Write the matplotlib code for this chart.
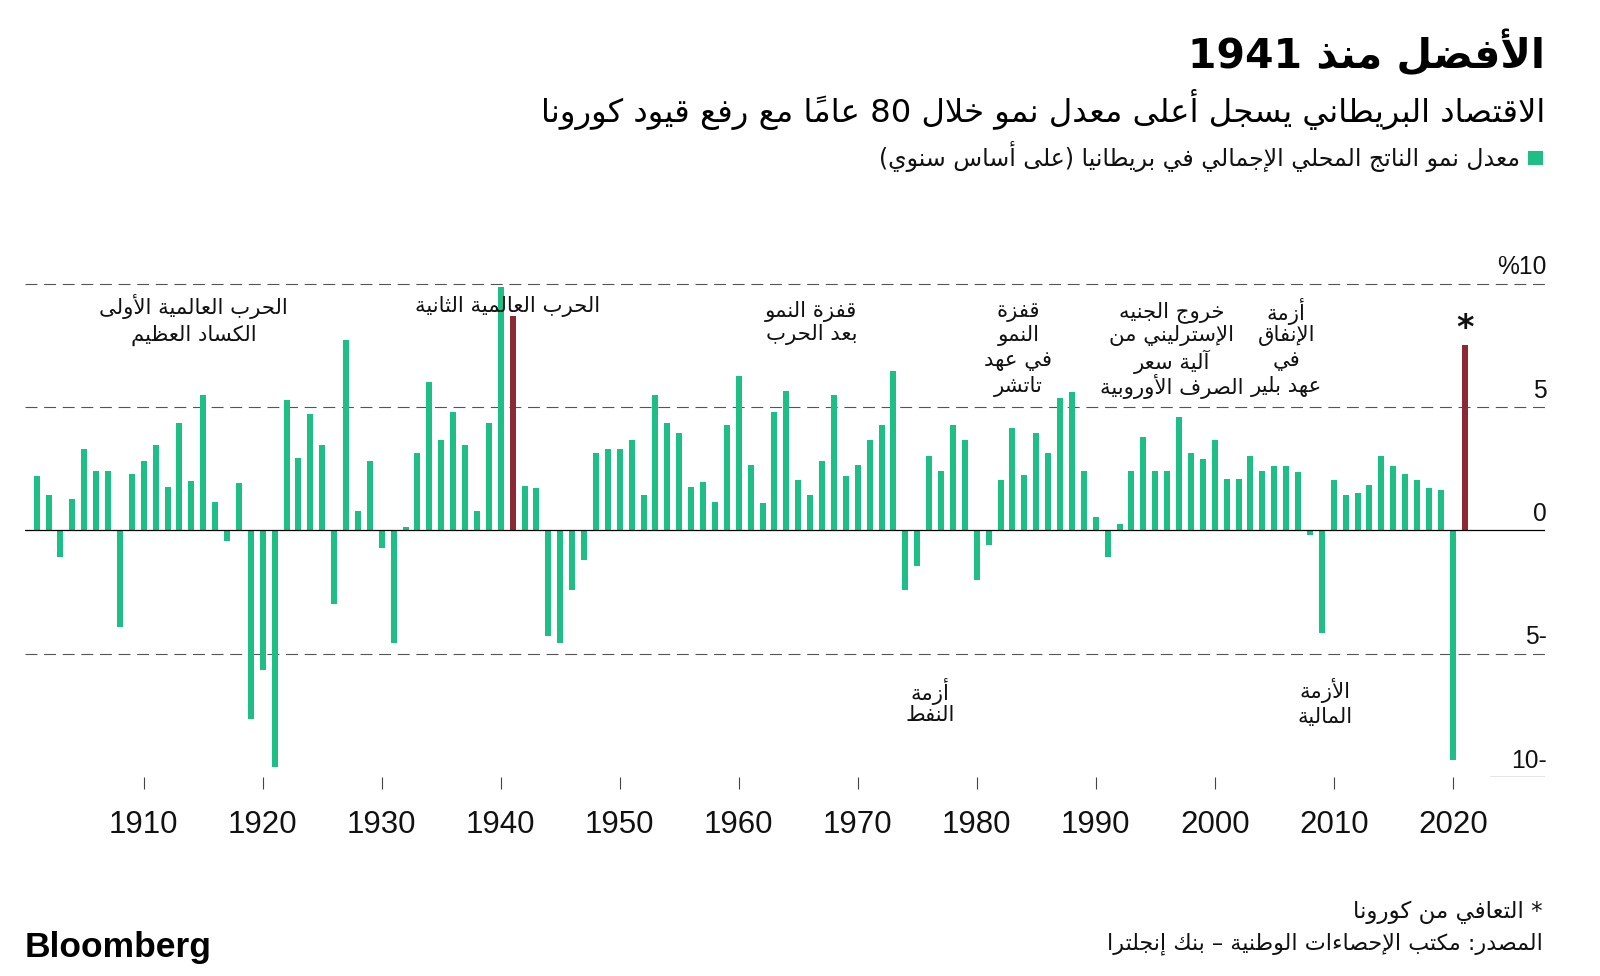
import matplotlib
matplotlib.use('Agg')
import matplotlib.pyplot as plt
from matplotlib.patches import Rectangle
from matplotlib.transforms import blended_transform_factory

plt.rcParams['font.family'] = ['DejaVu Sans']
plt.rcParams['lines.scale_dashes'] = False

# ---------------- data ----------------
years = list(range(1901, 2022))
growth = [2.2, 1.45, -1.1, 1.25, 3.3, 2.4, 2.4, -3.9, 2.3, 2.8,            # 1901-1910
          3.45, 1.75, 4.35, 2.0, 5.5, 1.15, -0.45, 1.9, -7.65, -5.65,      # 1911-1920
          -9.6, 5.3, 2.95, 4.7, 3.45, -3.0, 7.7, 0.8, 2.8, -0.7,           # 1921-1930
          -4.55, 0.15, 3.15, 6.0, 3.65, 4.8, 3.45, 0.8, 4.35, 9.85,        # 1931-1940
          8.7, 1.8, 1.7, -4.3, -4.55, -2.4, -1.2, 3.15, 3.3, 3.3,          # 1941-1950
          3.65, 1.45, 5.5, 4.35, 3.95, 1.75, 1.95, 1.15, 4.25, 6.25,       # 1951-1960
          2.65, 1.1, 4.8, 5.65, 2.05, 1.45, 2.8, 5.5, 2.2, 2.65,           # 1961-1970
          3.65, 4.25, 6.45, -2.4, -1.45, 3.0, 2.4, 4.25, 3.65, -2.0,       # 1971-1980
          -0.6, 2.05, 4.15, 2.25, 3.95, 3.15, 5.35, 5.6, 2.4, 0.55,        # 1981-1990
          -1.1, 0.25, 2.4, 3.8, 2.4, 2.4, 4.6, 3.15, 2.9, 3.65,            # 1991-2000
          2.1, 2.1, 3.0, 2.4, 2.6, 2.6, 2.35, -0.2, -4.15, 2.05,           # 2001-2010
          1.45, 1.5, 1.85, 3.0, 2.6, 2.3, 2.05, 1.7, 1.65, -9.3,           # 2011-2020
          7.5]                                                             # 2021
red_years = [1941, 2021]
star_year = 2021
xtick_years = [1910, 1920, 1930, 1940, 1950, 1960, 1970, 1980, 1990, 2000, 2010, 2020]
ytick_values = [10, 5, 0, -5, -10]
ytick_labels = ['%10', '5', '0', '5-', '10-']

title = 'الأفضل منذ 1941'
subtitle = 'الاقتصاد البريطاني يسجل أعلى معدل نمو خلال 80 عاماً مع رفع قيود كورونا'
legend_label = 'معدل نمو الناتج المحلي الإجمالي في بريطانيا (على أساس سنوي)'
note = '* التعافي من كورونا'
source = 'المصدر: مكتب الإحصاءات الوطنية – بنك إنجلترا'
events = [
    (['الحرب العالمية الأولى', 'الكساد العظيم'], 1914.2, [9.07, 7.92]),
    (['الحرب العالمية الثانية'], 1940.6, [9.07]),
    (['قفزة النمو', 'بعد الحرب'], 1966.1, [8.88, 7.92]),
    (['قفزة', 'النمو', 'في عهد', 'تاتشر'], 1983.5, [8.86, 7.9, 6.85, 5.82]),
    (['خروج الجنيه', 'الإسترليني من', 'آلية سعر', 'الصرف الأوروبية'], 1996.4, [8.86, 7.9, 6.85, 5.82]),
    (['أزمة', 'الإنفاق', 'في', 'عهد بلير'], 2006.0, [8.86, 7.9, 6.85, 5.82]),
    (['أزمة', 'النفط'], 1976.1, [-6.54, -7.49]),
    (['الأزمة', 'المالية'], 2009.3, [-6.5, -7.55]),
]

GREEN = '#1dbf86'
RED = '#8b2a36'

# ---------------- arabic shaping (matplotlib has no bidi / joining) ----------------
AR_LETTERS = [('\u0621', 1), ('\u0622', 2), ('\u0623', 2), ('\u0624', 2), ('\u0625', 2),
              ('\u0626', 4), ('\u0627', 2), ('\u0628', 4), ('\u0629', 2), ('\u062a', 4),
              ('\u062b', 4), ('\u062c', 4), ('\u062d', 4), ('\u062e', 4), ('\u062f', 2),
              ('\u0630', 2), ('\u0631', 2), ('\u0632', 2), ('\u0633', 4), ('\u0634', 4),
              ('\u0635', 4), ('\u0636', 4), ('\u0637', 4), ('\u0638', 4), ('\u0639', 4),
              ('\u063a', 4), ('\u0641', 4), ('\u0642', 4), ('\u0643', 4), ('\u0644', 4),
              ('\u0645', 4), ('\u0646', 4), ('\u0647', 4), ('\u0648', 2), ('\u0649', 2),
              ('\u064a', 4)]
FORMS = {}
code = 0xFE80
for ch, n in AR_LETTERS:
    FORMS[ch] = [chr(code + k) for k in range(n)] + [None] * (4 - n)   # iso, fin, ini, med
    code += n
LAMALEF = {'\u0622': 0xFEF5, '\u0623': 0xFEF7, '\u0625': 0xFEF9, '\u0627': 0xFEFB}
MIRROR = {'(': ')', ')': '('}


def dual(t):
    return t is not None and not t[2] and t[0] in FORMS and FORMS[t[0]][2] is not None


def joins_prev(t):
    return t is not None and (t[2] or (t[0] in FORMS and FORMS[t[0]][1] is not None))


def visual(line):
    toks = []
    for ch in line:
        if '\u064b' <= ch <= '\u0652' and toks:
            toks[-1][1] += ch
        elif ch in LAMALEF and toks and toks[-1][0] == '\u0644' and not toks[-1][2] and not toks[-1][1]:
            toks[-1][0] = ch
            toks[-1][2] = True
        else:
            toks.append([ch, '', False])
    units = []
    for i, t in enumerate(toks):
        prev = toks[i - 1] if i > 0 else None
        nxt = toks[i + 1] if i + 1 < len(toks) else None
        jp = dual(prev) and joins_prev(t)
        if t[2]:
            g = chr(LAMALEF[t[0]] + (1 if jp else 0))
        elif t[0] in FORMS:
            f = FORMS[t[0]]
            jn = dual(t) and joins_prev(nxt)
            if jp and jn:
                g = f[3]
            elif jp:
                g = f[1]
            elif jn:
                g = f[2]
            else:
                g = f[0]
        else:
            g = t[0]
        units.append(g + t[1])
    # right-to-left order, digits/latin keep their own order
    runs = []
    for u in units:
        ltr = u[0].isascii() and u[0].isalnum()
        if runs and runs[-1][0] == ltr:
            runs[-1][1].append(u)
        else:
            runs.append([ltr, [u]])
    out = ''
    for ltr, us in reversed(runs):
        if not ltr:
            us = [MIRROR.get(u, u) for u in reversed(us)]
        out += ''.join(us)
    return out


def ar(text):
    return '\n'.join(visual(l) for l in text.split('\n'))


# ---------------- figure ----------------
W, H = 1600, 976
fig = plt.figure(figsize=(16, 9.76), dpi=100)
fig.patch.set_facecolor('white')
ax = fig.add_axes([25 / W, (H - 777) / H, 1520 / W, 505.7 / H])

colors = [RED if y in red_years else GREEN for y in years]
ax.bar(years, growth, width=0.5, color=colors, zorder=2)

ax.set_xlim(1900.02, 2027.75)
ax.set_ylim(-10, 10.5)

for v in [10, 5, -5]:
    ax.axhline(v, color='#555555', lw=0.8, dashes=(8.6, 4.8), zorder=1)
ax.axhline(0, color='black', lw=0.9, zorder=3)
ax.axhline(-10, xmin=(1490 - 25) / 1520, xmax=1.0, color='#333333', lw=0.9)

for s in ax.spines.values():
    s.set_visible(False)
ax.set_yticks([])
ax.set_xticks(xtick_years, [str(y) for y in xtick_years])
ax.tick_params(axis='x', length=8.6, width=0.8, color='#444444', pad=15,
               labelsize=22.5, labelcolor='#111111')
for lab in ax.get_xticklabels():
    lab.set_family('Liberation Sans')

trans = blended_transform_factory(ax.transAxes, ax.transData)
for v, lab in zip(ytick_values, ytick_labels):
    ax.text((1547 - 25) / 1520, v + 0.38, lab, transform=trans, ha='right', va='baseline',
            fontsize=17.7, family='Liberation Sans', color='#111111')

for lines, x, ys in events:
    for txt, y in zip(lines, ys):
        ax.text(x, y, ar(txt), ha='center', va='center', fontsize=15.3, color='#111111')

ax.text(star_year, 8.2, '*', ha='center', va='center', fontsize=24, fontweight='bold',
        color='#111111')

# titles
fig.text(1545 / W, 1 - 54 / H, ar(title), ha='right', va='center', fontsize=29.5,
         fontweight='bold', color='black')
fig.text(1545 / W, 1 - 110 / H, ar(subtitle), ha='right', va='center', fontsize=23.2, color='black')
fig.patches.append(Rectangle((1528 / W, 1 - 165 / H), 15 / W, 14 / H, transform=fig.transFigure,
                             facecolor=GREEN, edgecolor='none'))
fig.text(1520 / W, 1 - 157 / H, ar(legend_label), ha='right', va='center', fontsize=17, color='#111111')

# footer
fig.text(1543 / W, 1 - 912 / H, ar(note), ha='right', va='center', fontsize=16.5, color='#111111')
fig.text(1543 / W, 1 - 944 / H, ar(source), ha='right', va='center', fontsize=16, color='#111111')
fig.text(25 / W, 1 - 957 / H, 'Bloomberg', ha='left', va='baseline', fontsize=25.5,
         family='Liberation Sans', fontweight='bold', color='black')

fig.savefig('out.png', dpi=100)
